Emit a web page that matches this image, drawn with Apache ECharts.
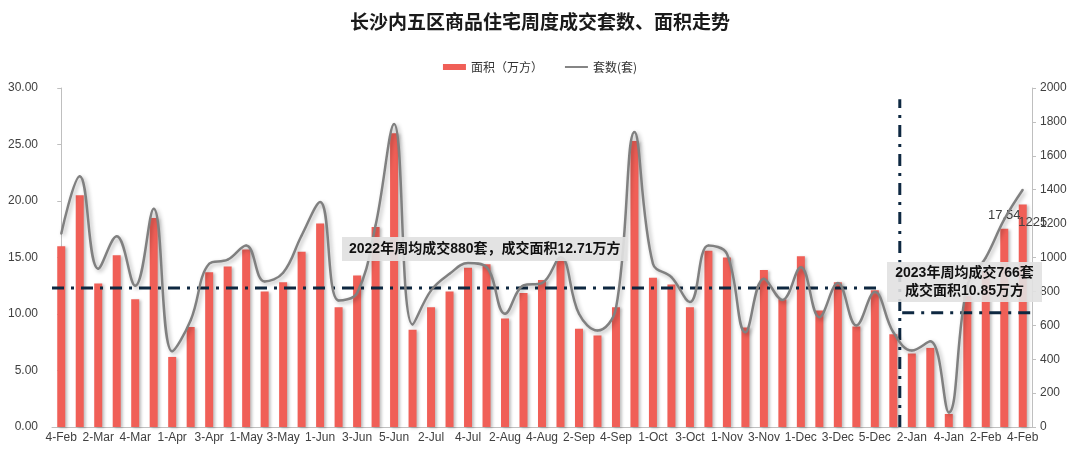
<!DOCTYPE html>
<html>
<head>
<meta charset="utf-8">
<script src="https://cdn.jsdelivr.net/npm/echarts@6/dist/echarts.min.js"></script>
<style>html,body{margin:0;padding:0;background:#fff;}#c{width:1080px;height:453px;}</style>
</head>
<body>
<div id="c"></div>
<script>
const weeks = ['4-Feb','1-Mar','2-Mar','3-Mar','4-Mar','5-Mar','1-Apr','2-Apr','3-Apr','4-Apr','1-May','2-May','3-May','4-May','1-Jun','2-Jun','3-Jun','4-Jun','5-Jun','1-Jul','2-Jul','3-Jul','4-Jul','1-Aug','2-Aug','3-Aug','4-Aug','1-Sep','2-Sep','3-Sep','4-Sep','5-Sep','1-Oct','2-Oct','3-Oct','4-Oct','1-Nov','2-Nov','3-Nov','4-Nov','1-Dec','2-Dec','3-Dec','4-Dec','5-Dec','1-Jan','2-Jan','3-Jan','4-Jan','1-Feb','2-Feb','3-Feb','4-Feb'];
const areaValues = [16.0,20.5,12.7,15.2,11.3,18.5,6.2,8.85,13.7,14.2,15.7,12.0,12.8,15.5,18.0,10.6,13.4,17.7,26.0,8.6,10.6,12.0,14.1,14.4,9.6,11.85,13.0,14.9,8.7,8.1,10.6,25.3,13.2,12.6,10.6,15.6,15.0,8.8,13.9,11.3,15.1,10.3,12.8,8.9,12.1,8.2,6.5,7.0,1.15,11.6,13.8,17.54,19.7];
const unitValues = [1140,1480,934,1125,833,1288,447,630,963,987,1071,859,910,1130,1327,746,790,1190,1787,605,806,904,967,943,668,835,849,1002,668,569,700,1740,963,884,737,1071,1022,559,875,750,943,648,849,599,796,559,451,506,86,835,999,1225,1400];
const leftTicks = [0,5,10,15,20,25,30];
const rightTicks = [0,200,400,600,800,1000,1200,1400,1600,1800,2000];
// reference lines in (category position, left-axis value)
const avg2022Line = [[-0.5,12.3],[44.35,12.3]];
const avg2023Line = [[45.48,10.1],[52.5,10.1]];
const dividerLine = [[45.35,0],[45.35,29.0]];
const labelledIndex = 51;
const note2022 = '2022年周均成交880套，成交面积12.71万方';
const note2023 = '2023年周均成交766套\n成交面积10.85万方';
const seriesNames = ['面积（万方）','套数(套)'];

const FONT = '"Liberation Sans", Arial, "Noto Sans CJK SC", sans-serif';
const chart = echarts.init(document.getElementById('c'));
const refStyle = {color:'#0E2841', width:3, type:[12,7,3,7], cap:'butt'};
const barData = areaValues.map((v,i)=> i===labelledIndex ? {value:v,label:{show:true,position:'top',distance:7,color:'#404040',fontSize:13,fontFamily:FONT,formatter:p=>p.value.toFixed(2)}} : v);
const lineData = unitValues.map((v,i)=> i===labelledIndex ? {value:v,label:{show:true,position:'right',distance:13,offset:[0,3],color:'#404040',fontSize:13,fontFamily:FONT}} : v);

chart.setOption({
  animation:false,
  backgroundColor:'#fff',
  title:{text:'长沙内五区商品住宅周度成交套数、面积走势',left:'center',top:7,textStyle:{fontSize:19,fontWeight:'bold',color:'#1a1a1a',fontFamily:'"Noto Sans CJK SC", sans-serif'}},
  legend:{top:56,left:'center',itemGap:22,itemWidth:23,itemHeight:6,textStyle:{fontSize:12,color:'#333',fontFamily:'"Noto Sans CJK SC", sans-serif'},
    data:[{name:seriesNames[0],icon:'rect'},{name:seriesNames[1],icon:'path://M0 0H24V2H0Z',itemStyle:{color:'#808080'}}]},
  grid:{left:52,right:48,top:88,bottom:26,containLabel:false},
  xAxis:[
    {type:'category',data:weeks,boundaryGap:true,
     axisLine:{lineStyle:{color:'#BFBFBF',width:1}},axisTick:{show:false},
     axisLabel:{interval:1,color:'#404040',fontSize:12,fontFamily:FONT,margin:5}},
    {type:'value',min:-0.5,max:weeks.length-0.5,show:false}
  ],
  yAxis:[
    {type:'value',min:leftTicks[0],max:leftTicks[leftTicks.length-1],interval:leftTicks[1]-leftTicks[0],
     axisLine:{show:true,lineStyle:{color:'#BFBFBF'}},axisTick:{show:true,length:4,lineStyle:{color:'#BFBFBF'}},
     splitLine:{show:false},axisLabel:{color:'#404040',fontSize:12,fontFamily:FONT,margin:14,formatter:v=>v.toFixed(2)}},
    {type:'value',min:rightTicks[0],max:rightTicks[rightTicks.length-1],interval:rightTicks[1]-rightTicks[0],position:'right',
     axisLine:{show:true,lineStyle:{color:'#BFBFBF'}},axisTick:{show:true,length:4,lineStyle:{color:'#BFBFBF'}},
     splitLine:{show:false},axisLabel:{color:'#404040',fontSize:12,fontFamily:FONT,margin:8,formatter:v=>String(v)}}
  ],
  series:[
    {name:seriesNames[0],type:'bar',data:barData,barWidth:8,xAxisIndex:0,yAxisIndex:0,z:2,
     itemStyle:{color:'#F05F57',shadowColor:'rgba(0,0,0,0.25)',shadowBlur:3,shadowOffsetX:2,shadowOffsetY:1}},
    {name:'ref2022',type:'line',xAxisIndex:1,yAxisIndex:0,data:avg2022Line,symbol:'none',lineStyle:refStyle,z:3,silent:true},
    {name:'ref2023',type:'line',xAxisIndex:1,yAxisIndex:0,data:avg2023Line,symbol:'none',lineStyle:refStyle,z:3,silent:true},
    {name:'divider',type:'line',xAxisIndex:1,yAxisIndex:0,data:dividerLine,symbol:'none',lineStyle:refStyle,z:3,silent:true},
    {name:seriesNames[1],type:'line',data:lineData,xAxisIndex:0,yAxisIndex:1,smooth:0.4,z:4,
     symbol:'circle',symbolSize:2,showSymbol:true,itemStyle:{color:'#808080'},
     lineStyle:{color:'#808080',width:2.5,shadowColor:'rgba(0,0,0,0.3)',shadowBlur:4,shadowOffsetX:2,shadowOffsetY:2}}
  ],
  graphic:[
    {type:'text',left:342,top:237,z:10,style:{text:note2022,font:'bold 14px "Liberation Sans", "Noto Sans CJK SC", sans-serif',fill:'#111',backgroundColor:'rgba(225,225,225,0.92)',padding:[4,7,4,7],lineHeight:16}},
    {type:'rect',z:10,shape:{x:887,y:262,width:155,height:40},style:{fill:'rgba(225,225,225,0.9)'}},
    {type:'text',z:11,x:964.5,y:282,style:{text:note2023,font:'bold 14px "Liberation Sans", "Noto Sans CJK SC", sans-serif',fill:'#111',align:'center',verticalAlign:'middle',lineHeight:17.5}}
  ]
});
</script>
</body>
</html>
